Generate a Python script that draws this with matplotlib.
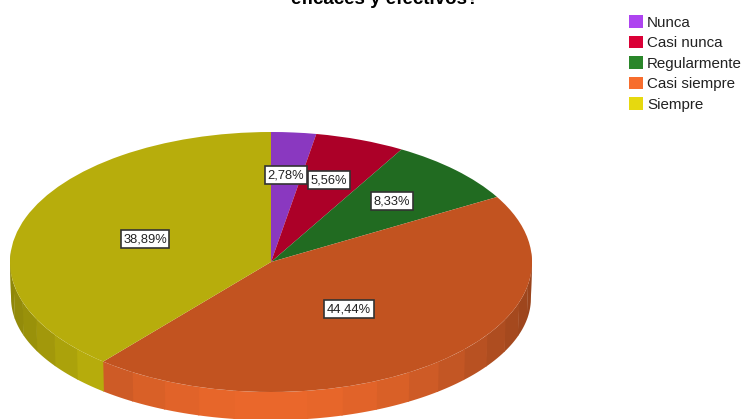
import numpy as np
import matplotlib
matplotlib.use('Agg')
import matplotlib.pyplot as plt
from matplotlib.colors import to_rgb
from matplotlib.patches import Patch

categories = ['Nunca', 'Casi nunca', 'Regularmente', 'Casi siempre', 'Siempre']
counts = [1, 2, 3, 16, 14]
percent_labels = ['2,78%', '5,56%', '8,33%', '44,44%', '38,89%']
legend_colors = ['#AE44F0', '#DA0036', '#2A862A', '#F76D2D', '#E6D90F']
top_colors = ['#8A38C0', '#AC0028', '#216B21', '#C25320', '#B7AD0C']
title = 'eficaces y efectivos?'

W, H = 744, 419
cx, cy, rx, ry = 271, 262, 261, 130
depth = 36 / ry
# lower rim is a flatter ellipse than the top one
bottom_x = 0.996
bottom_y = 0.94

plt.rcParams['font.family'] = ['Liberation Sans', 'DejaVu Sans']

fig = plt.figure(figsize=(W / 100, H / 100), dpi=100)
ax = fig.add_axes([0, 0, 1, 1])

# side wall, only the front half of the pie shows it
angles = np.cumsum([0] + counts) / np.sum(counts) * 360
edges = np.concatenate(([86], np.arange(92, 270, 8), [274]))
for a0, a1 in zip(edges[:-1], edges[1:]):
    mid = (a0 + a1) / 2
    idx = np.searchsorted(angles, mid) - 1
    shade = 0.62 + 0.33 * np.cos(np.radians(mid - 180)) ** 2
    col = np.array(to_rgb(legend_colors[idx])) * shade
    t = np.radians(np.linspace(a0, a1 + 0.3, 8))
    xs = np.concatenate((np.sin(t), bottom_x * np.sin(t[::-1])))
    ys = np.concatenate((np.cos(t), bottom_y * np.cos(t[::-1]) - depth))
    ax.fill(xs, ys, color=col, lw=0)

ax.pie(counts, colors=top_colors, startangle=90, counterclock=False, radius=1)

ax.set_aspect('auto')
ax.set_xlim(-cx / rx, (W - cx) / rx)
ax.set_ylim((cy - H) / ry, cy / ry)

label_x = [286, 329, 392, 349, 145]
label_y = [175, 180, 201, 309, 239]
for txt, x, y in zip(percent_labels, label_x, label_y):
    fig.text(x / W, 1 - y / H, txt, fontsize=9.3, color='#222222', ha='center', va='center',
             bbox=dict(boxstyle='square,pad=0.2', fc='white', ec='#333333', lw=1.2))

fig.text(385 / W, 1 - 4 / H, title, fontsize=13.5, fontweight='bold', ha='center', va='baseline')

handles = [Patch(facecolor=c, edgecolor='none') for c in legend_colors]
fig.legend(handles, categories, loc='upper left', bbox_to_anchor=(629 / W, 1 - 15 / H),
           frameon=False, fontsize=10.9, labelcolor='#222222', handlelength=0.93, handleheight=0.93,
           handletextpad=0.26, labelspacing=0.39, borderpad=0, borderaxespad=0)

fig.savefig('out.png', dpi=100)
